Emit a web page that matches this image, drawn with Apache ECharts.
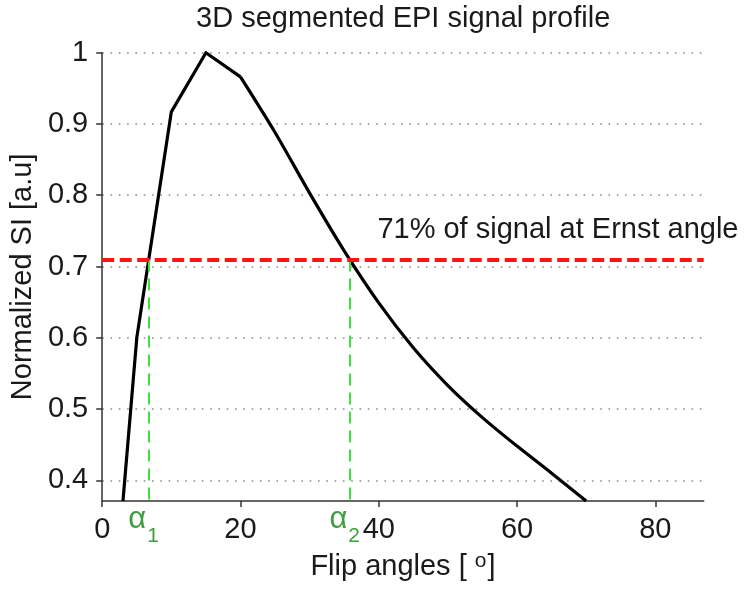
<!DOCTYPE html>
<html><head><meta charset="utf-8">
<script src="https://cdn.jsdelivr.net/npm/echarts@6/dist/echarts.min.js"></script>
<style>html,body{margin:0;padding:0;background:#fff}#c{width:750px;height:593px}</style>
</head><body><div id="c"></div>
<script>
// ---- data ----
const flipAngles = [3, 5, 10, 15, 20, 25, 30, 35, 40, 45, 50, 55, 60, 65, 70];
const signal = [0.371, 0.6, 0.917, 1.0, 0.966, 0.888, 0.803, 0.722, 0.649, 0.586, 0.533, 0.488, 0.448, 0.41, 0.371];
const smoothFrom = 20; // the curve is smooth from this angle on
const xTicks = [0, 20, 40, 60, 80];
const yTicks = [0.4, 0.5, 0.6, 0.7, 0.8, 0.9, 1];
const xRange = [0, 87];
const yRange = [0.371, 1];
const ernstFraction = 0.71;
const alphaAngles = [6.7, 35.8];
const alphaNames = ['1', '2'];
const annotationText = '71% of signal at Ernst angle';
const annotationAt = [39.8, 0.751];
const titleText = '3D segmented EPI signal profile';
const yName = 'Normalized SI [a.u]';

const FONT = '"Liberation Sans", Arial, Helvetica, sans-serif';
const TXT = '#1a1a1a';
const GREEN = '#3ee23e';
const GREEN_TXT = '#3f9e3f';

const chart = echarts.init(document.getElementById('c'), null, {renderer: 'canvas'});

const pairs = flipAngles.map((x, i) => [x, signal[i]]);
const rising = pairs.filter(p => p[0] <= smoothFrom);
const falling = pairs.filter(p => p[0] >= smoothFrom);

const alphaLines = alphaAngles.map((a, i) => [
  {
    coord: [a, ernstFraction],
    lineStyle: {color: GREEN, width: 2, type: [12, 7]},
    label: {
      show: true, position: 'end', distance: 1,
      formatter: '{a|α}{s|' + alphaNames[i] + '}',
      padding: [0, 10, 0, 0],
      rich: {
        a: {fontFamily: FONT, fontSize: 31, color: GREEN_TXT, lineHeight: 31, verticalAlign: 'top', padding: [2, 0, 0, 0]},
        s: {fontFamily: FONT, fontSize: 21, color: GREEN_TXT, lineHeight: 21, verticalAlign: 'bottom', padding: [0, 0, -14, 1]}
      }
    }
  },
  {coord: [a, yRange[0]]}
]);

const option = {
  animation: false,
  backgroundColor: '#fff',
  textStyle: {fontFamily: FONT},
  title: {
    text: titleText, left: 196, top: 4, padding: 0,
    textStyle: {fontFamily: FONT, fontSize: 29, fontWeight: 'normal', color: TXT}
  },
  grid: {left: 97.3, right: 46.3, top: 52.7, bottom: 92, containLabel: false},
  xAxis: {
    type: 'value', min: xRange[0], max: xRange[1],
    name: '{a|Flip angles [ }{s|o}{a|]}',
    nameLocation: 'middle', nameGap: 50,
    nameTextStyle: {
      rich: {
        a: {fontFamily: FONT, fontSize: 29, color: TXT, lineHeight: 32},
        s: {fontFamily: FONT, fontSize: 21, color: TXT, lineHeight: 32, verticalAlign: 'top', padding: [0, 1, 13, 0]}
      }
    },
    axisLine: {show: true, lineStyle: {color: '#333', width: 1.5}},
    axisTick: {show: true, inside: false, length: 6, lineStyle: {color: '#333', width: 1.5}, customValues: xTicks},
    axisLabel: {customValues: xTicks, fontFamily: FONT, fontSize: 29, color: TXT, margin: 14},
    splitLine: {show: false}
  },
  yAxis: {
    type: 'value', min: yRange[0], max: yRange[1],
    name: yName, nameLocation: 'middle', nameRotate: 90, nameGap: 64,
    nameTextStyle: {fontFamily: FONT, fontSize: 29, color: TXT},
    axisLine: {show: true, lineStyle: {color: '#333', width: 1.5}},
    axisTick: {show: true, inside: false, length: 6, lineStyle: {color: '#333', width: 1.5}, customValues: yTicks},
    axisLabel: {customValues: yTicks, fontFamily: FONT, fontSize: 29, color: TXT, margin: 14},
    splitLine: {show: true, lineStyle: {color: '#8a8a8a', width: 1.6, type: [1.6, 6.7]}}
  },
  series: [
    {
      type: 'line',
      data: rising,
      showSymbol: false, symbol: 'none',
      lineStyle: {color: '#000', width: 3.2, join: 'round'},
      clip: true, z: 3,
      markLine: {
        silent: true, symbol: ['none', 'none'], z: 4,
        animation: false,
        data: [
          ...alphaLines,
          {yAxis: ernstFraction, lineStyle: {color: '#ff1414', width: 4, type: [12, 5.5]}, label: {show: false}}
        ]
      },
      markPoint: {
        silent: true, symbol: 'circle', symbolSize: 0,
        data: [{
          coord: annotationAt,
          label: {show: true, position: 'right', distance: 0, formatter: annotationText,
                  fontFamily: FONT, fontSize: 29, color: TXT}
        }]
      }
    },
    {
      type: 'line',
      data: falling,
      smooth: 0.3,
      showSymbol: false, symbol: 'none',
      lineStyle: {color: '#000', width: 3.2, join: 'round'},
      clip: true, z: 3
    }
  ]
};
chart.setOption(option);
</script>
</body></html>
